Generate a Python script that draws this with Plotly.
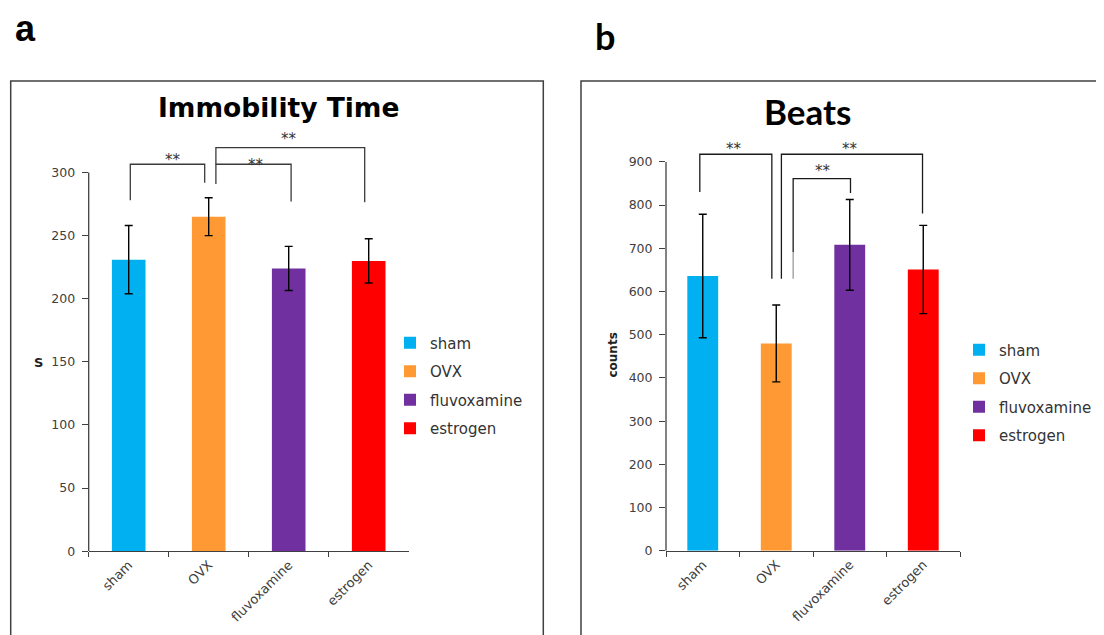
import plotly.graph_objects as go

W, H = 1104, 635
# rendered page: figure offset by 8px body margin, effective height 627
OFF, RW, RH = 8, 1104, 627


def sx(px):
    return (px - OFF) / RW


def sy(py):
    return 1 - (py - OFF) / RH


categories = ["sham", "OVX", "fluvoxamine", "estrogen"]
colors = ["#00B0F0", "#FF9933", "#7030A0", "#FF0000"]

# Panel a: Immobility Time (s)
immobility = [231, 265, 224, 230]
immobility_err = [27, 15, 17.5, 17.5]
a_ticks = [0, 50, 100, 150, 200, 250, 300]

# Panel b: Beats (counts)
beats = [636, 480, 708, 651]
beats_err = [143, 89, 105, 102]
b_ticks = [0, 100, 200, 300, 400, 500, 600, 700, 800, 900]

# significance brackets: (x_left, x_right, y_top, y_left_bottom, y_right_bottom)
a_brackets = [
    (0.02, 0.95, 306.6, 278, 292),
    (1.09, 2.03, 306.6, 291, 277),
    (1.09, 2.95, 319.8, 306.6, 276.4),
]
a_stars = [(0.55, 312.1), (1.59, 308.2), (2.0, 329.0)]

b_brackets = [
    (-0.04, 0.94, 917.7, 830.4, 629.7),
    (1.07, 2.99, 917.7, 629.7, 780.3),
    (1.23, 2.01, 861.4, 691.6, 828.0),
]
b_gray_segment = (1.23, 629.7, 691.6)
b_stars = [(0.42, 937), (2.0, 937), (1.64, 887)]

YTICKFONT = dict(family="DejaVu Sans", size=12.5, color="#404040")
XTICKFONT = dict(family="DejaVu Sans", size=13, color="#404040")
LINE = "#404040"

fig = go.Figure()

for i, c in enumerate(categories):
    fig.add_trace(go.Bar(
        x=[c], y=[immobility[i]], name=c, marker_color=colors[i],
        marker_line_width=0, width=0.42,
        error_y=dict(type="data", array=[immobility_err[i]], color="black", thickness=1.4, width=4),
        xaxis="x", yaxis="y", legend="legend", legendgroup="a" + c,
    ))
for i, c in enumerate(categories):
    fig.add_trace(go.Bar(
        x=[c], y=[beats[i]], name=c, marker_color=colors[i],
        marker_line_width=0, width=0.42,
        error_y=dict(type="data", array=[beats_err[i]], color="black", thickness=1.4, width=4),
        xaxis="x2", yaxis="y2", legend="legend2", legendgroup="b" + c,
    ))

shapes = []
# panel borders
shapes.append(dict(type="rect", xref="paper", yref="paper", x0=sx(10.7), x1=sx(543.3),
                   y0=-0.05, y1=sy(81), line=dict(color="#404040", width=1.5)))
shapes.append(dict(type="rect", xref="paper", yref="paper", x0=sx(581), x1=1.05,
                   y0=-0.05, y1=sy(81), line=dict(color="#404040", width=1.5)))
# y axis lines limited to tick range
shapes.append(dict(type="line", xref="x domain", yref="y", x0=0, x1=0, y0=0, y1=a_ticks[-1],
                   line=dict(color=LINE, width=1.3)))
shapes.append(dict(type="line", xref="x2 domain", yref="y2", x0=0, x1=0, y0=0, y1=b_ticks[-1],
                   line=dict(color=LINE, width=1.3)))


def add_bracket(xr, yr, br, color):
    xl, xrr, yt, ylb, yrb = br
    shapes.append(dict(type="path", xref=xr, yref=yr,
                       path=f"M {xl},{ylb} L {xl},{yt} L {xrr},{yt} L {xrr},{yrb}",
                       line=dict(color=color, width=1.3)))


for br in a_brackets:
    add_bracket("x", "y", br, "#3a3a3a")
for br in b_brackets:
    add_bracket("x2", "y2", br, "#1a1a1a")
gx, gy0, gy1 = b_gray_segment
shapes.append(dict(type="line", xref="x2", yref="y2", x0=gx, x1=gx, y0=gy0, y1=gy1,
                   line=dict(color="#9a9a9a", width=1.3)))

annotations = []
STARFONT = dict(family="DejaVu Sans", size=15, color="#333")
for (sx_, sy_) in a_stars:
    annotations.append(dict(x=sx_, y=sy_, xref="x", yref="y", text="**", showarrow=False,
                            xanchor="center", yanchor="middle", font=STARFONT, yshift=-3))
for (sx_, sy_) in b_stars:
    annotations.append(dict(x=sx_, y=sy_, xref="x2", yref="y2", text="**", showarrow=False,
                            xanchor="center", yanchor="middle", font=STARFONT, yshift=-3))

annotations += [
    dict(x=sx(278.5), y=sy(107), xref="paper", yref="paper", text="<b>Immobility Time</b>",
         showarrow=False, xanchor="center", yanchor="middle",
         font=dict(family="DejaVu Sans", size=26.5, color="black")),
    dict(x=sx(807), y=sy(111), xref="paper", yref="paper", text="<b>Beats</b>",
         showarrow=False, xanchor="center", yanchor="middle",
         font=dict(family="Lato", size=35, color="black")),
    dict(x=sx(25), y=sy(28), xref="paper", yref="paper", text="<b>a</b>",
         showarrow=False, xanchor="center", yanchor="middle",
         font=dict(family="Liberation Sans", size=36, color="black")),
    dict(x=sx(605), y=sy(36), xref="paper", yref="paper", text="<b>b</b>",
         showarrow=False, xanchor="center", yanchor="middle",
         font=dict(family="Lato", size=36, color="black")),
    dict(x=sx(38), y=sy(362), xref="paper", yref="paper", text="<b>S</b>",
         showarrow=False, xanchor="center", yanchor="middle",
         font=dict(family="DejaVu Sans", size=13, color="#222")),
    dict(x=sx(613), y=sy(355), xref="paper", yref="paper", text="<b>counts</b>", textangle=-90,
         showarrow=False, xanchor="center", yanchor="middle",
         font=dict(family="DejaVu Sans", size=12, color="#222")),
]

axis_common = dict(showgrid=False, zeroline=False, tickcolor=LINE)

a_px_per = 1.26
b_px_per = 0.4315
a_top = 340
b_top = 960

fig.update_layout(
    width=W, height=H, margin=dict(l=0, r=0, t=0, b=0),
    paper_bgcolor="white", plot_bgcolor="white",
    barmode="overlay", showlegend=True,
    xaxis=dict(domain=[sx(88.7), sx(408.7)], anchor="y", type="category",
               categoryorder="array", categoryarray=categories,
               showline=True, linecolor=LINE, linewidth=1.3, ticks="outside", ticklen=5,
               tickson="boundaries", tickangle=-45, tickfont=XTICKFONT, **axis_common),
    yaxis=dict(domain=[sy(550.3), sy(550.3 - a_top * a_px_per)], anchor="x",
               range=[0, a_top], tickvals=a_ticks, ticks="outside", ticklen=6,
               ticklabelstandoff=4,
               showline=False, tickfont=YTICKFONT, **axis_common),
    xaxis2=dict(domain=[sx(666), sx(960)], anchor="y2", type="category",
                categoryorder="array", categoryarray=categories,
                showline=True, linecolor=LINE, linewidth=1.3, ticks="outside", ticklen=5,
                tickson="boundaries", tickangle=-45, tickfont=XTICKFONT, **axis_common),
    yaxis2=dict(domain=[sy(550), sy(550 - b_top * b_px_per)], anchor="x2",
                range=[0, b_top], tickvals=b_ticks, ticks="outside", ticklen=6,
                ticklabelstandoff=4,
                showline=False, tickfont=YTICKFONT, **axis_common),
    legend=dict(x=sx(390), y=sy(326), xanchor="left", yanchor="top",
                font=dict(family="DejaVu Sans", size=15, color="#333"),
                tracegroupgap=6, bgcolor="rgba(0,0,0,0)", itemclick=False),
    legend2=dict(x=sx(959), y=sy(333), xanchor="left", yanchor="top",
                 font=dict(family="DejaVu Sans", size=15, color="#333"),
                 tracegroupgap=6, bgcolor="rgba(0,0,0,0)", itemclick=False),
    shapes=shapes, annotations=annotations,
)

fig.write_html("out.html")
